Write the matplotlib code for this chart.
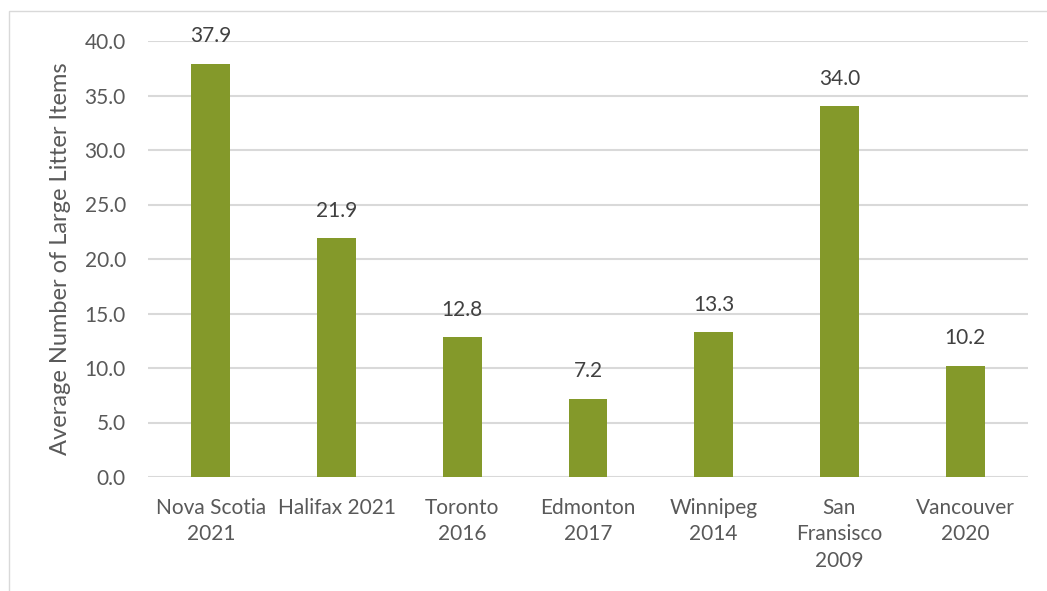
import matplotlib
matplotlib.use("Agg")
import matplotlib.pyplot as plt
from matplotlib.patches import Rectangle

# data
places = ["Nova Scotia\n2021", "Halifax 2021", "Toronto\n2016", "Edmonton\n2017",
          "Winnipeg\n2014", "San\nFransisco\n2009", "Vancouver\n2020"]
litter = [37.9, 21.9, 12.8, 7.2, 13.3, 34.0, 10.2]
yticks = [0, 5, 10, 15, 20, 25, 30, 35, 40]

txt = "#595959"
plt.rcParams["font.family"] = ["Lato", "DejaVu Sans"]

fig = plt.figure(figsize=(10.47, 5.91), dpi=100)
ax = fig.add_axes([148/1047, 1 - 477/591, 880/1047, 436/591])

x = range(len(places))
ax.bar(x, litter, width=0.31, color="#84992A", zorder=3)
for i, v in zip(x, litter):
    ax.text(i, v + 1.6, "%.1f" % v, ha="center", va="bottom", fontsize=15, color="#404040")

ax.set_xlim(-0.5, len(places) - 0.5)
ax.set_ylim(0, 40)
ax.set_yticks(yticks)
ax.set_yticklabels(["%.1f" % t for t in yticks])
ax.set_xticks(list(x))
ax.set_xticklabels(places, linespacing=1.4)
ax.tick_params(axis="both", length=0, labelsize=15, labelcolor=txt)
ax.tick_params(axis="x", pad=15)
ax.tick_params(axis="y", pad=16)
ax.yaxis.grid(True, color="#d9d9d9", linewidth=1.5, zorder=0)
for s in ax.spines.values():
    s.set_visible(False)
ax.set_ylabel("Average Number of Large Litter Items", fontsize=17, color=txt, labelpad=10)

# outer chart border
fig.patches.append(Rectangle((9/1047, -0.1), 1.1, 1 - 11/591 + 0.1, transform=fig.transFigure,
                             fill=False, edgecolor="#d9d9d9", linewidth=1))

fig.savefig("out.png", dpi=100)
